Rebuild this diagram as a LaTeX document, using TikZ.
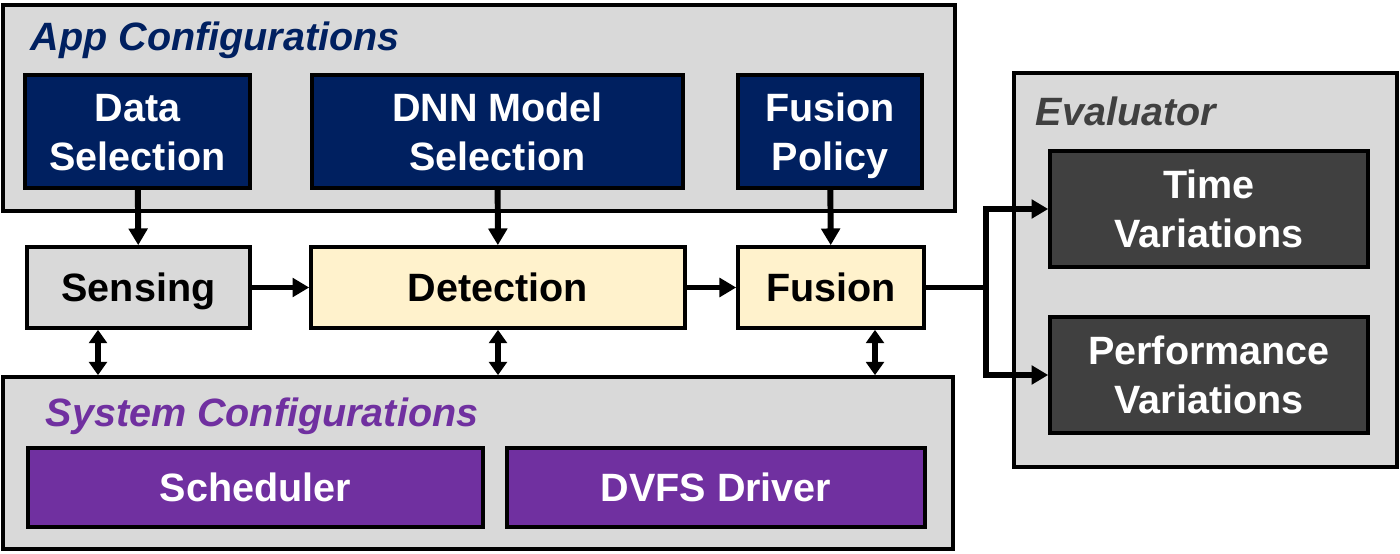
\documentclass[tikz,border=0pt]{standalone}
\usepackage{fontspec}
\setmainfont{Liberation Sans}
\usepackage{tikz}
\usetikzlibrary{positioning,arrows.meta}
\definecolor{navyblue}{RGB}{0,32,96}
\definecolor{sysviolet}{RGB}{112,48,160}
\definecolor{paneltone}{RGB}{217,217,217}
\definecolor{stagetone}{RGB}{255,242,204}
\definecolor{evaltone}{RGB}{64,64,64}

\begin{document}
\begin{tikzpicture}[x=0.02cm, y=-0.02cm, line width=2.1pt,
  txt/.style={font=\fontsize{22.5}{28}\selectfont\bfseries, align=center, text depth=0pt},
  panel/.style={draw, fill=paneltone, inner sep=0pt},
  appbox/.style={txt, draw, fill=navyblue, text=white, text height=44.1pt, minimum height=2.26cm},
  stagebox/.style={txt, draw, text height=16.1pt, minimum height=1.62cm},
  sysbox/.style={txt, draw, fill=sysviolet, text=white, text height=16.1pt, minimum height=1.58cm},
  evalbox/.style={txt, draw, fill=evaltone, text=white, text height=44.1pt, minimum width=6.36cm, minimum height=2.32cm},
  heading/.style={font=\fontsize{22.5}{28}\selectfont\bfseries\itshape, anchor=west},
  arr/.style={line width=3.4pt, -{Triangle[length=9.5pt,width=10.5pt]}},
  dbl/.style={line width=3.4pt, {Triangle[length=7.5pt,width=10pt]}-{Triangle[length=7.5pt,width=10pt]}}]
\useasboundingbox (0,0) rectangle (1400,554);
% panels
\node[panel, minimum width=19.04cm, minimum height=4.12cm] (app) at (479,108) {};
\node[panel, minimum width=19.0cm, minimum height=3.44cm] (sys) at (478,463) {};
\node[panel, minimum width=7.66cm, minimum height=7.88cm] (eval) at (1205.5,270) {};
\node[heading, text=navyblue] (apptitle) at (23,40) {App Configurations};
\node[heading, text=sysviolet] (systitle) at (38,416) {System Configurations};
\node[heading, text=evaltone] (evaltitle) at (1028,111) {Evaluator};
% app configurations
\node[appbox, minimum width=4.5cm] (data) at (137.5,131.5) {Data\\Selection};
\node[appbox, minimum width=7.42cm] (dnn) at (497.5,131.5) {DNN Model\\Selection};
\node[appbox, minimum width=3.68cm] (policy) at (830,131.5) {Fusion\\Policy};
% pipeline
\node[stagebox, fill=paneltone, minimum width=4.46cm] (sense) at (138.5,287.5) {Sensing};
\node[stagebox, fill=stagetone, minimum width=7.48cm] (detect) at (498,287.5) {Detection};
\node[stagebox, fill=stagetone, minimum width=3.72cm] (fusion) at (831,287.5) {Fusion};
% system configurations
\node[sysbox, minimum width=9.1cm] (sched) at (255.5,487.5) {Scheduler};
\node[sysbox, minimum width=8.36cm] (dvfs) at (716,487.5) {DVFS Driver};
% evaluator
\node[evalbox] (time) at (1209,209) {Time\\Variations};
\node[evalbox] (perf) at (1209,375) {Performance\\Variations};
% connectors
\coordinate (s1) at (98,0);
\coordinate (s3) at (875,0);
\coordinate (fork) at (986,287.5);
\draw[arr] (data) -- (sense);
\draw[arr] (dnn) -- (detect);
\draw[arr] (policy) -- (fusion);
\draw[arr] (sense) -- (detect);
\draw[arr] (detect) -- (fusion);
\draw[dbl] (s1 |- sense.south) -- (s1 |- sys.north);
\draw[dbl] (detect.south) -- (detect.south |- sys.north);
\draw[dbl] (s3 |- fusion.south) -- (s3 |- sys.north);
\draw[line width=3.4pt] (fusion) -- (fork);
\draw[arr] (fork) |- (time);
\draw[arr] (fork) |- (perf);
\end{tikzpicture}
\end{document}
